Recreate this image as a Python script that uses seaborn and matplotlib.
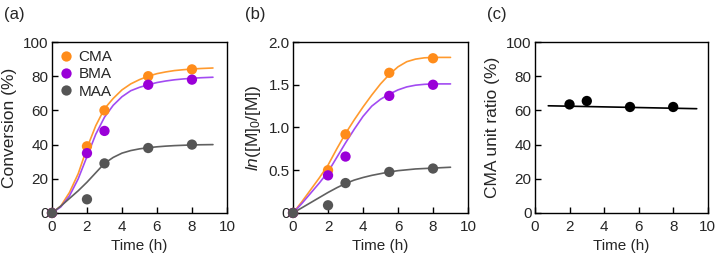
import pandas as pd
import matplotlib
matplotlib.use("Agg")
import matplotlib.pyplot as plt
import seaborn as sns

# measured points
t_pts = [0, 2, 3, 5.5, 8]
conv_cma = [0, 39, 60, 80, 84]
conv_bma = [0, 35, 48, 75, 78]
conv_maa = [0, 8, 29, 38, 40]
ln_cma = [0, 0.50, 0.92, 1.64, 1.81]
ln_bma = [0, 0.44, 0.66, 1.37, 1.50]
ln_maa = [0, 0.09, 0.35, 0.48, 0.52]

t_ratio = [2, 3, 5.5, 8]
cma_ratio = [63.5, 65.5, 62, 62]

# fitted curves
t_fit = [0, 0.5, 1, 1.5, 2, 2.5, 3, 3.5, 4, 4.5, 5, 5.5, 6, 6.5, 7, 7.5, 8, 8.5, 9.2]
fit_conv_cma = [0, 4, 12, 23, 38, 51, 61, 67, 72, 75.5, 78, 80, 81.5, 82.5, 83.3, 83.8, 84.2, 84.5, 84.8]
fit_conv_bma = [0, 3.5, 10, 20, 33, 46, 56, 63, 68, 71.5, 73.5, 75, 76.3, 77.2, 77.9, 78.4, 78.8, 79.1, 79.4]
fit_conv_maa = [0, 4, 8.5, 13, 18, 23.5, 29, 32.5, 35, 36.5, 37.5, 38.2, 38.7, 39.1, 39.4, 39.6, 39.8, 39.9, 40]

t_fit_ln = [0, 0.5, 1, 1.5, 2, 2.5, 3, 3.5, 4, 4.5, 5, 5.5, 6, 6.5, 7, 7.5, 8, 8.5, 9.0]
fit_ln_cma = [0, 0.13, 0.27, 0.41, 0.56, 0.75, 0.93, 1.09, 1.24, 1.38, 1.51, 1.62, 1.71, 1.77, 1.80, 1.815, 1.82, 1.82, 1.82]
fit_ln_bma = [0, 0.11, 0.23, 0.35, 0.48, 0.65, 0.82, 0.98, 1.13, 1.25, 1.33, 1.39, 1.44, 1.475, 1.495, 1.505, 1.51, 1.51, 1.51]
fit_ln_maa = [0, 0.06, 0.12, 0.18, 0.24, 0.295, 0.345, 0.385, 0.415, 0.44, 0.46, 0.48, 0.495, 0.505, 0.515, 0.52, 0.525, 0.53, 0.535]

t_ratio_fit = [0.77, 9.36]
ratio_fit = [62.7, 61.0]

monomers = ["CMA", "BMA", "MAA"]
point_colors = {"CMA": "#FF8C1A", "BMA": "#9A00D8", "MAA": "#555555"}
line_colors = {"CMA": "#FF9A2E", "BMA": "#A24BF2", "MAA": "#606060"}

sns.set_style("ticks")
plt.rcParams["font.family"] = ["Liberation Sans", "DejaVu Sans"]
plt.rcParams["mathtext.fontset"] = "custom"
plt.rcParams["mathtext.it"] = "Liberation Sans:italic"
plt.rcParams["mathtext.rm"] = "Liberation Sans"

pts = pd.DataFrame({
    "time": t_pts * 3,
    "conv": conv_cma + conv_bma + conv_maa,
    "ln": ln_cma + ln_bma + ln_maa,
    "monomer": [m for m in monomers for _ in t_pts],
})
fit_a = pd.DataFrame({
    "time": t_fit * 3,
    "conv": fit_conv_cma + fit_conv_bma + fit_conv_maa,
    "monomer": [m for m in monomers for _ in t_fit],
})
fit_b = pd.DataFrame({
    "time": t_fit_ln * 3,
    "ln": fit_ln_cma + fit_ln_bma + fit_ln_maa,
    "monomer": [m for m in monomers for _ in t_fit_ln],
})

fig = plt.figure(figsize=(7.2, 2.61), dpi=100)
ax1 = fig.add_axes([0.0722, 0.184, 0.243, 0.655])
ax2 = fig.add_axes([0.407, 0.184, 0.243, 0.655])
ax3 = fig.add_axes([0.743, 0.184, 0.240, 0.655])

# (a) conversion
sns.lineplot(data=fit_a, x="time", y="conv", hue="monomer", palette=line_colors,
             lw=1.2, legend=False, ax=ax1)
sns.scatterplot(data=pts, x="time", y="conv", hue="monomer", palette=point_colors,
                s=55, edgecolor="none", ax=ax1, zorder=3, clip_on=False)
ax1.set_ylim(0, 100)
ax1.set_ylabel("Conversion (%)", fontsize=12.5)
leg = ax1.legend(loc="upper left", frameon=False, fontsize=11, handlelength=0.8,
                 handletextpad=0.4, borderaxespad=0.15, labelspacing=0.2)

# (b) ln([M]0/[M])
sns.lineplot(data=fit_b, x="time", y="ln", hue="monomer", palette=line_colors,
             lw=1.2, legend=False, ax=ax2)
sns.scatterplot(data=pts, x="time", y="ln", hue="monomer", palette=point_colors,
                s=55, edgecolor="none", legend=False, ax=ax2, zorder=3, clip_on=False)
ax2.set_ylim(0, 2.0)
ax2.set_yticks([0, 0.5, 1.0, 1.5, 2.0])
ax2.set_yticklabels(["0", "0.5", "1.0", "1.5", "2.0"])
ax2.set_ylabel(r"$\mathit{ln}$([M]$_0$/[M])", fontsize=12.5)

# (c) CMA unit ratio
sns.lineplot(x=t_ratio_fit, y=ratio_fit, color="black", lw=1.2, ax=ax3)
sns.scatterplot(x=t_ratio, y=cma_ratio, color="black", s=55, edgecolor="none", ax=ax3, zorder=3)
ax3.set_ylim(0, 100)
ax3.set_ylabel("CMA unit ratio (%)", fontsize=12.5)

for ax, lab in zip([ax1, ax2, ax3], ["(a)", "(b)", "(c)"]):
    ax.set_xlim(0, 10)
    ax.set_xticks([0, 2, 4, 6, 8, 10])
    ax.set_xlabel("Time (h)", fontsize=11, labelpad=4)
    ax.tick_params(direction="in", length=4, width=1, labelsize=11, pad=2.5, color="black")
    ax.tick_params(axis="x", pad=5)
    for sp in ax.spines.values():
        sp.set_visible(True)
        sp.set_linewidth(1)
        sp.set_color("black")
    ax.text(-0.275, 1.16, lab, transform=ax.transAxes, fontsize=12, va="center", ha="left")

ax1.set_yticks([0, 20, 40, 60, 80, 100])
ax3.set_yticks([0, 20, 40, 60, 80, 100])

fig.savefig("out.png", dpi=100)
